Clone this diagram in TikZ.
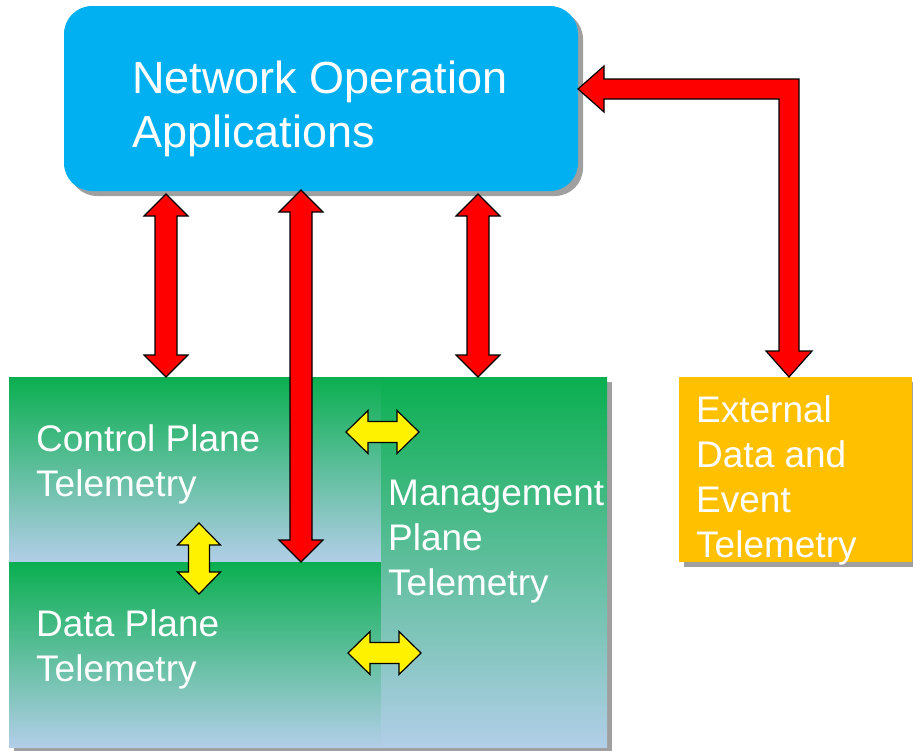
\documentclass[tikz,border=0pt]{standalone}
\usepackage{fontspec}
\setmainfont{Liberation Sans}
\usepackage{tikz}
\usetikzlibrary{calc, shadows}

\definecolor{noablue}{RGB}{0,176,240}
\definecolor{extorange}{RGB}{255,192,0}
\definecolor{planegreen}{RGB}{10,175,80}
\definecolor{planeblue}{RGB}{178,206,232}
\definecolor{shadowgray}{RGB}{160,160,160}

% double headed block arrow: style, from, to, head length, head half width, shaft half width
\newcommand\fatarrow[6]{%
  \draw[#1] (#2) -- ($(#2)!#4!(#3)!#5!90:(#3)$) -- ($(#2)!#4!(#3)!#6!90:(#3)$)
    -- ($(#3)!#4!(#2)!#6!-90:(#2)$) -- ($(#3)!#4!(#2)!#5!-90:(#2)$) -- (#3)
    -- ($(#3)!#4!(#2)!#5!90:(#2)$) -- ($(#3)!#4!(#2)!#6!90:(#2)$)
    -- ($(#2)!#4!(#3)!#6!-90:(#3)$) -- ($(#2)!#4!(#3)!#5!-90:(#3)$) -- cycle;}

\begin{document}
\begin{tikzpicture}[x=1pt, y=1pt,
    box/.style={anchor=north west, inner sep=0pt, outer sep=0pt,
      drop shadow={shadow xshift=5pt, shadow yshift=-5pt, fill=shadowgray, opacity=1}},
    plane/.style={box, top color=planegreen, bottom color=planeblue},
    txt/.style={anchor=west, inner sep=0pt, text=white, align=left,
      font=\fontsize{37}{45}\selectfont},
    redarrow/.style={fill=red, draw=black, line width=1.2pt},
    yelarrow/.style={fill=yellow, draw=black, line width=1.2pt}]
    \useasboundingbox (0,0) rectangle (913,-750);

    % Boxes
    \node[box, fill=noablue, rounded corners=28pt, minimum width=514pt, minimum height=185pt] (noa) at (64,-6) {};
    \node[plane, minimum width=372pt, minimum height=185pt] (cp) at (9,-377) {};
    \node[plane, minimum width=372pt, minimum height=185pt] (dp) at (9,-562) {};
    \node[plane, minimum width=226pt, minimum height=370pt] (mp) at (381,-377) {};
    \node[box, fill=extorange, minimum width=233pt, minimum height=185pt] (ext) at (679,-377) {};

    % Labels
    \node[txt, font=\fontsize{45}{54}\selectfont] (noatxt) at (132,-109) {Network Operation\\Applications};
    \node[txt] (cptxt) at (36,-464) {Control Plane\\Telemetry};
    \node[txt] (dptxt) at (36,-649) {Data Plane\\Telemetry};
    \node[txt] (mptxt) at (388,-542) {Management\\Plane\\Telemetry};
    \node[txt] (exttxt) at (696,-480) {External\\Data and\\Event\\Telemetry};

    % Red arrows to the applications
    \coordinate (r1a) at (166,-194);
    \coordinate (r1b) at (r1a |- cp.north);
    \coordinate (r2a) at (301,-190);
    \coordinate (r2b) at (r2a |- dp.north);
    \coordinate (r3a) at (478,-194);
    \coordinate (r3b) at (r3a |- mp.north);
    \fatarrow{redarrow}{r1a}{r1b}{22pt}{22pt}{11pt}
    \fatarrow{redarrow}{r2a}{r2b}{22pt}{22pt}{11pt}
    \fatarrow{redarrow}{r3a}{r3b}{22pt}{22pt}{11pt}

    % Elbow arrow from external telemetry
    \coordinate (e1) at (noa.east |- 0,-89);
    \coordinate (e2) at (789,0 |- ext.north);
    \coordinate (ebend) at (e2 |- e1);
    \draw[redarrow] (e1) -- ++(26,23) -- ++(0,-13) -- ($(ebend)+(10,10)$)
      -- ($(e2)+(10,26)$) -- ++(13,0) -- (e2) -- ($(e2)+(-23,26)$) -- ++(13,0)
      -- ($(ebend)+(-10,-10)$) -- ($(e1)+(26,-10)$) -- ++(0,-13) -- cycle;

    % Yellow arrows between planes
    \coordinate (y1a) at (199,-523);
    \coordinate (y1b) at (199,-594);
    \coordinate (y2a) at (346,-432);
    \coordinate (y2b) at (419,-432);
    \coordinate (y3a) at (348,-653);
    \coordinate (y3b) at (421,-653);
    \fatarrow{yelarrow}{y1a}{y1b}{22pt}{21.5pt}{10.5pt}
    \fatarrow{yelarrow}{y2a}{y2b}{22pt}{21.5pt}{10.5pt}
    \fatarrow{yelarrow}{y3a}{y3b}{22pt}{21.5pt}{10.5pt}
\end{tikzpicture}
\end{document}
